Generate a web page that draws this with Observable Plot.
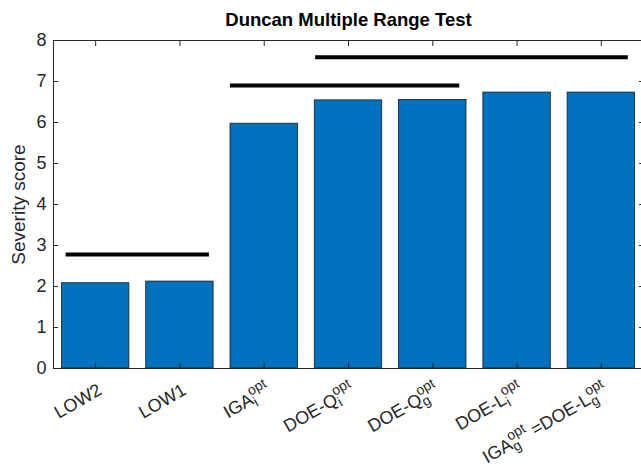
<!DOCTYPE html>
<html><head><meta charset="utf-8">
<script src="https://cdn.jsdelivr.net/npm/d3@7"></script>
<script src="https://cdn.jsdelivr.net/npm/@observablehq/plot@0.6"></script>
<style>body{margin:0;background:#fff} svg{display:block}</style>
</head><body><div id="chart"></div>
<script>
const categories = ["LOW2", "LOW1", "IGA_i^{opt}", "DOE-Q_i^{opt}", "DOE-Q_g^{opt}", "DOE-L_i^{opt}", "IGA_g^{opt} =DOE-L_g^{opt}"];
const scores = [2.08, 2.12, 5.97, 6.54, 6.55, 6.73, 6.73];
const groupStart = [0.65, 2.6, 3.61];
const groupEnd = [2.35, 5.32, 7.32];
const groupLevel = [2.78, 6.90, 7.59];
const yTicks = [0, 1, 2, 3, 4, 5, 6, 7, 8];
const titleText = "Duncan Multiple Range Test";
const yLabelText = "Severity score";

const positions = categories.map((c, i) => i + 1);
const bars = categories.map((c, i) => ({pos: i + 1, score: scores[i]}));
const groups = groupLevel.map((l, i) => ({start: groupStart[i], end: groupEnd[i], level: l}));

const font = "'Liberation Sans', Arial, Helvetica, sans-serif";
const ink = "#262626";

const plot = Plot.plot({
  width: 641, height: 467,
  marginLeft: 53, marginRight: -2, marginTop: 40, marginBottom: 99,
  style: {fontFamily: font, fontSize: "18px", color: ink, background: "#fff", overflow: "hidden"},
  x: {type: "linear", domain: [0.5, 7.5]},
  y: {domain: [0, 8]},
  marks: [
    Plot.rectY(bars, {x1: d => d.pos - 0.4, x2: d => d.pos + 0.4, y1: 0, y2: "score", fill: "#0072BD", stroke: "#1a1a1a", strokeWidth: 0.8}),
    Plot.ruleY(groups, {y: "level", x1: "start", x2: "end", stroke: "#000", strokeWidth: 4}),
    Plot.frame({stroke: ink, strokeWidth: 1}),
    Plot.axisY({anchor: "left", ticks: yTicks, tickSize: 0, tickPadding: 7, fontSize: 18, label: null}),
    Plot.axisY({anchor: "left", ticks: yTicks, tickSize: -5, tickFormat: () => "", label: null, stroke: ink}),
    Plot.axisY({anchor: "right", ticks: yTicks, tickSize: -5, tickFormat: () => "", label: null, stroke: ink}),
    Plot.axisX({anchor: "bottom", ticks: positions, tickSize: -5, tickFormat: () => "", label: null, stroke: ink}),
    Plot.axisX({anchor: "top", ticks: positions, tickSize: -5, tickFormat: () => "", label: null, stroke: ink}),
    Plot.text(positions, {x: d => d, frameAnchor: "bottom", text: (d, i) => categories[i], rotate: -30, textAnchor: "end", lineAnchor: "top", dx: 1, dy: 14, fontSize: 18, fill: ink}),
    Plot.text([titleText], {frameAnchor: "top", lineAnchor: "bottom", dy: -15, fontWeight: "bold", fontSize: 18.5, fill: "#000"}),
    Plot.text([yLabelText], {frameAnchor: "left", rotate: -90, dx: -35, textAnchor: "middle", fontSize: 19, fill: ink})
  ]
});
document.getElementById("chart").appendChild(plot);

// TeX-like sub/superscripts in tick labels
const scriptSize = 14, subShift = 4, supShift = 8.5;
function parseTex(s) {
  const out = []; let i = 0, buf = "";
  const readArg = () => { if (s[i] === "{") { const j = s.indexOf("}", i); const a = s.slice(i + 1, j); i = j + 1; return a; } return s[i++]; };
  while (i < s.length) {
    const c = s[i];
    if (c === "_" || c === "^") {
      if (buf) { out.push({text: buf}); buf = ""; }
      const seg = {sub: "", sup: ""};
      while (s[i] === "_" || s[i] === "^") { const k = s[i++]; const a = readArg(); if (k === "_") seg.sub = a; else seg.sup = a; }
      out.push(seg);
    } else { buf += c; i++; }
  }
  if (buf) out.push({text: buf});
  return out;
}
function renderTex(el, s) {
  const ns = "http://www.w3.org/2000/svg";
  while (el.firstChild) el.removeChild(el.firstChild);
  el.style.whiteSpace = "pre";
  const mk = (str, size) => { const t = document.createElementNS(ns, "tspan"); t.textContent = str; if (size) t.setAttribute("font-size", size); el.appendChild(t); return t; };
  let pdx = 0, pdy = 0;
  for (const seg of parseTex(s)) {
    if (seg.text !== undefined) {
      const t = mk(seg.text);
      if (pdx) t.setAttribute("dx", pdx);
      if (pdy) t.setAttribute("dy", pdy);
      pdx = 0; pdy = 0;
    } else {
      const a = mk(seg.sub, scriptSize);
      a.setAttribute("dy", pdy + subShift);
      if (pdx) a.setAttribute("dx", pdx);
      const wa = a.getComputedTextLength();
      const b = mk(seg.sup, scriptSize);
      b.setAttribute("dx", -wa);
      b.setAttribute("dy", -(subShift + supShift));
      const wb = b.getComputedTextLength();
      pdx = Math.max(0, wa - wb); pdy = supShift;
    }
  }
}
plot.querySelectorAll("text").forEach(t => {
  const s = t.textContent;
  if (categories.includes(s) && /[_^]/.test(s)) renderTex(t, s);
});
</script>
</body></html>
